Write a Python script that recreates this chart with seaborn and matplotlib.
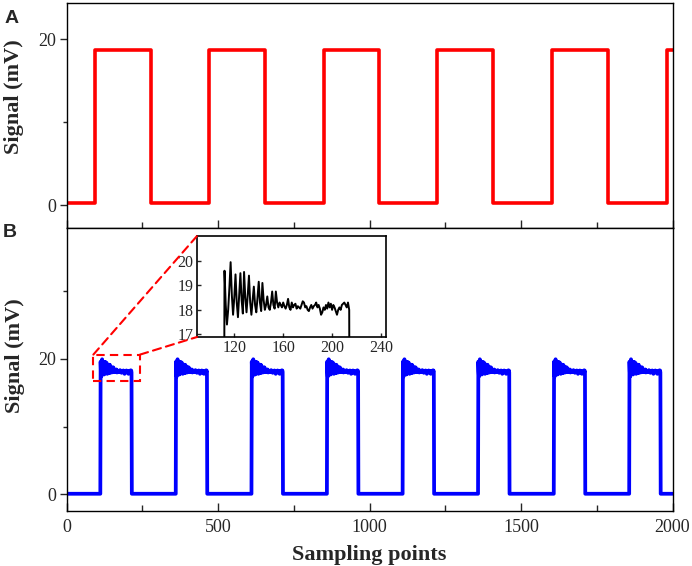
import numpy as np
import pandas as pd
import matplotlib
matplotlib.use("Agg")
import matplotlib.pyplot as plt
import seaborn as sns
from matplotlib.patches import Rectangle, ConnectionPatch
from matplotlib.ticker import MultipleLocator

# ---------------- data ----------------
n_last = 2000
red_rises = [94, 469, 848, 1224, 1603, 1982]
red_falls = [277, 655, 1032, 1409, 1786]
red_high = 18.7
red_low = 0.2

blue_rises = [112, 361, 611, 860, 1110, 1359, 1609, 1858]
blue_low = 0.1
# per-sample signal of one pulse (samples 112..214)
pulse_profile = [
    19.6, 18.2, 17.4, 18.0, 18.9, 19.95, 18.6, 17.8, 18.5, 19.45,
    18.3, 17.7, 18.6, 19.5, 18.4, 17.85, 19.55, 18.5, 17.9, 18.6,
    19.4, 18.3, 17.8, 18.4, 18.95, 18.2, 17.9, 18.5, 19.15, 18.3,
    17.95, 19.1, 18.4, 18.0, 18.2, 18.55, 18.1, 18.0, 18.3, 18.75,
    18.2, 18.05, 18.75, 18.3, 18.1, 18.3, 18.2, 18.1, 18.3, 18.15,
    18.05, 18.2, 18.45, 18.1, 18.0, 18.3, 18.1, 18.2, 18.25, 18.05,
    18.15, 18.1, 18.05, 18.2, 18.35, 18.3, 18.1, 18.15, 18.0, 17.95,
    18.1, 18.2, 18.05, 18.15, 18.2, 18.3, 18.1, 18.2, 18.05, 17.8,
    17.9, 18.1, 18.0, 18.2, 18.05, 18.3, 18.1, 18.25, 18.0, 18.2,
    18.1, 17.95, 17.8, 18.0, 18.1, 18.0, 18.2, 18.25, 18.3, 18.2,
    18.1, 18.3, 18.0,
]

x_major = [0, 500, 1000, 1500, 2000]
top_yticks = [0, 20]
bot_yticks = [0, 20]
inset_xticks = [120, 160, 200, 240]
inset_yticks = [17, 18, 19, 20]
zoom_rect_x = (88, 242)
zoom_rect_y = (16.67, 20.64)

# ---------------- build the traces ----------------
rx, ry = [0], [red_low]
edges = sorted([(e, red_high) for e in red_rises] + [(e, red_low) for e in red_falls])
cur = red_low
for e, new in edges:
    rx += [e, e]
    ry += [cur, new]
    cur = new
rx.append(n_last); ry.append(cur)
red_df = pd.DataFrame({"x": rx, "y": ry})

bx, by = [0], [blue_low]
for r in blue_rises:
    bx.append(r - 1); by.append(blue_low)
    for k, v in enumerate(pulse_profile):
        bx.append(r + k); by.append(v)
    bx.append(r + len(pulse_profile)); by.append(blue_low)
bx.append(n_last); by.append(blue_low)
blue_df = pd.DataFrame({"x": bx, "y": by})

first = blue_df[(blue_df.x >= blue_rises[0] - 1) & (blue_df.x <= blue_rises[0] + len(pulse_profile))]

# ---------------- style ----------------
sns.set_theme(style="ticks")
plt.rcParams["font.family"] = ["Liberation Serif", "DejaVu Serif"]
plt.rcParams["axes.linewidth"] = 1.0
plt.rcParams["axes.edgecolor"] = "black"

W, H = 692, 566
fig = plt.figure(figsize=(W / 100, H / 100), dpi=100)
L = 66.7 / W
Wd = (672.5 - 66.7) / W
ax1 = fig.add_axes([L, (H - 227.5) / H, Wd, (227.5 - 3) / H])
ax2 = fig.add_axes([L, (H - 510.7) / H, Wd, (510.7 - 227.5) / H], sharex=ax1)

sns.lineplot(data=red_df, x="x", y="y", sort=False, estimator=None,
             color="#ff0000", lw=2.6, ax=ax1)
sns.lineplot(data=blue_df, x="x", y="y", sort=False, estimator=None,
             color="#0000ff", lw=2.7, ax=ax2)

ax1.set_xlim(0, 2000)
ax1.set_ylim(-2.7, 24.4)
ax2.set_ylim(-2.4, 39.4)

for ax, yt in ((ax1, top_yticks), (ax2, bot_yticks)):
    ax.set_xlabel(""); ax.set_ylabel("")
    ax.set_yticks(yt)
    ax.yaxis.set_minor_locator(MultipleLocator(10))
    ax.xaxis.set_minor_locator(MultipleLocator(250))
    ax.tick_params(axis="y", which="major", direction="out", length=5, width=1,
                   labelsize=13, pad=2.5, left=True, right=False)
    ax.tick_params(axis="y", which="minor", direction="out", length=3, width=1,
                   left=True, right=False)
    ax.tick_params(axis="x", which="major", direction="in", length=6, width=1,
                   labelsize=13, pad=6, bottom=True, top=False)
    ax.tick_params(axis="x", which="minor", direction="in", length=4, width=1,
                   bottom=True, top=False)
    for s in ax.spines.values():
        s.set_visible(True); s.set_linewidth(1.0); s.set_color("black")

ax2.set_xticks(x_major)
ax1.tick_params(axis="x", labelbottom=False)

# zoom rectangle
ax2.add_patch(Rectangle((zoom_rect_x[0], zoom_rect_y[0]),
                        zoom_rect_x[1] - zoom_rect_x[0], zoom_rect_y[1] - zoom_rect_y[0],
                        fill=False, edgecolor="#ff0000", lw=1.5, linestyle=(0, (4, 2.5)),
                        zorder=5))

# inset
axi = fig.add_axes([197 / W, (H - 337) / H, 189 / W, 101 / H])
sns.lineplot(data=first, x="x", y="y", sort=False, estimator=None,
             color="black", lw=1.4, ax=axi)
axi.set_xlim(89.5, 244.1)
axi.set_ylim(16.89, 21.02)
axi.set_xticks(inset_xticks)
axi.set_yticks(inset_yticks)
axi.set_xlabel(""); axi.set_ylabel("")
axi.tick_params(axis="both", direction="in", length=3, width=1, labelsize=11.5, pad=2.5)
for s in axi.spines.values():
    s.set_visible(True); s.set_linewidth(1.2); s.set_color("black")

for xyA, xyB in (((zoom_rect_x[0], zoom_rect_y[1]), (0, 1)),
                 ((zoom_rect_x[1], zoom_rect_y[1]), (0, 0))):
    cp = ConnectionPatch(xyA=xyA, coordsA=ax2.transData, xyB=xyB, coordsB=axi.transAxes,
                         color="#ff0000", lw=1.5, linestyle=(0, (4, 2.5)), zorder=6)
    fig.add_artist(cp)

# labels
fig.text(14 / W, 1 - 97 / H, "Signal (mV)", rotation=90, ha="center", va="center",
         fontsize=16, fontweight="bold")
fig.text(15 / W, 1 - 356 / H, "Signal (mV)", rotation=90, ha="center", va="center",
         fontsize=16, fontweight="bold")
fig.text(369.6 / W, 1 - 560 / H, "Sampling points", ha="center", va="baseline",
         fontsize=16, fontweight="bold")
fig.text(5 / W, 1 - 23.3 / H, "A", ha="left", va="baseline", fontsize=14,
         fontweight="bold", family=["Liberation Sans", "DejaVu Sans"])
fig.text(3 / W, 1 - 237 / H, "B", ha="left", va="baseline", fontsize=14,
         fontweight="bold", family=["Liberation Sans", "DejaVu Sans"])

fig.savefig("out.png", dpi=100)
